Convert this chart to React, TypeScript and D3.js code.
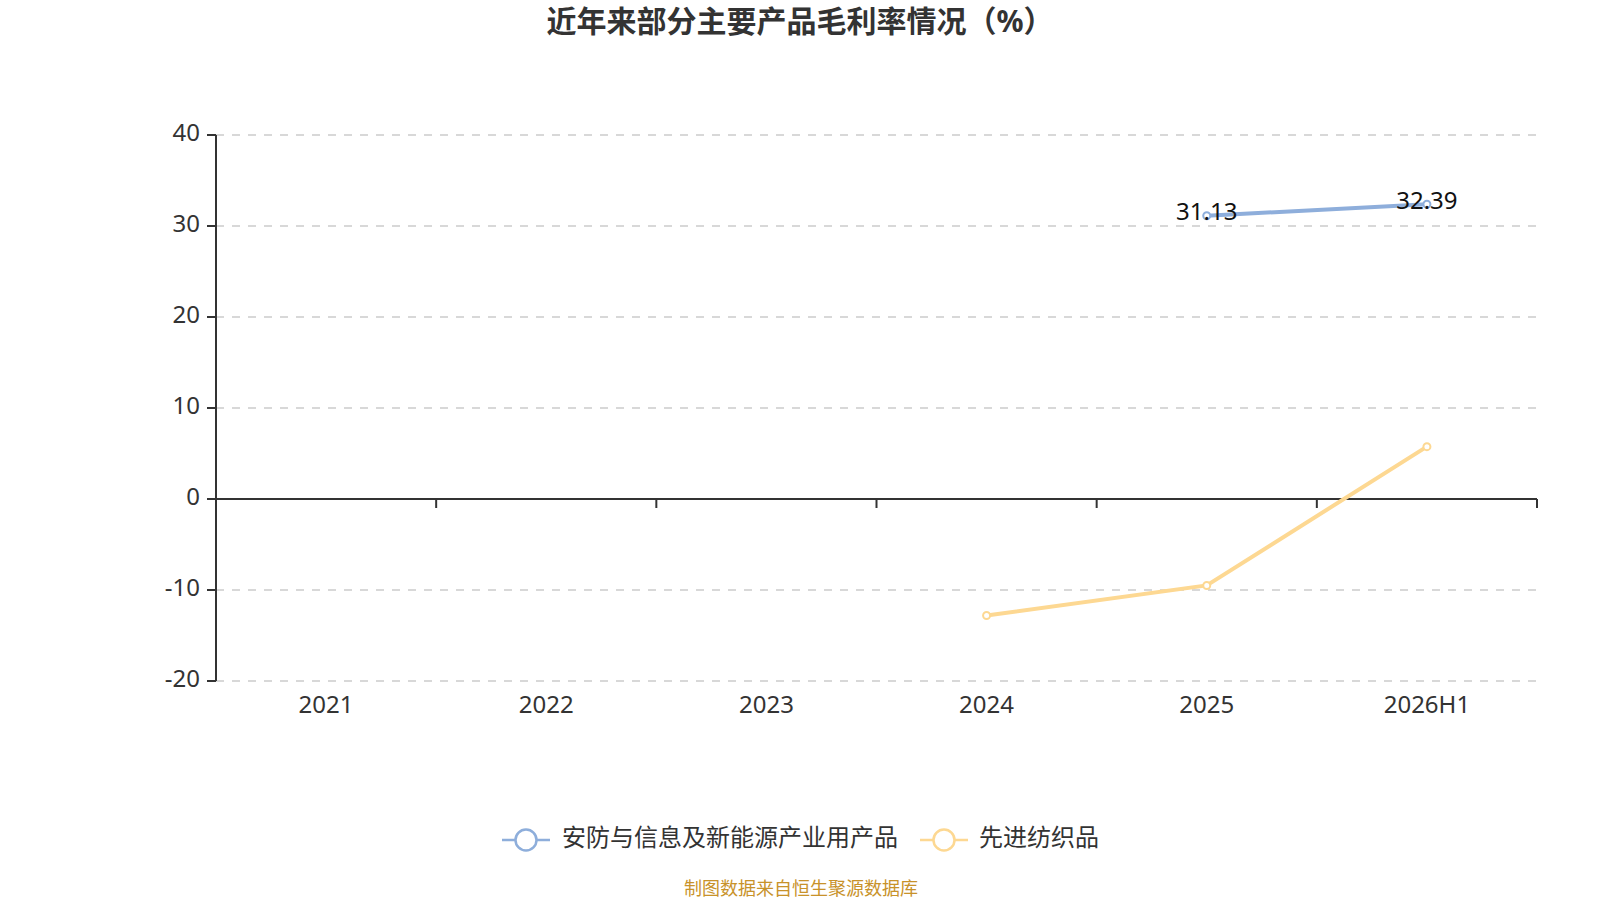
import * as d3 from "d3";

const categories = ["2021", "2022", "2023", "2024", "2025", "2026H1"];
const seriesNames = ["安防与信息及新能源产业用产品", "先进纺织品"];
const securityValues: (number | null)[] = [null, null, null, null, 31.13, 32.39];
const textileValues: (number | null)[] = [null, null, null, -12.8, -9.5, 5.75];
const yTicks = [-20, -10, 0, 10, 20, 30, 40];

const colors = ["#8eaedb", "#fdd892"];
const FONT = "'Noto Sans', 'Noto Sans CJK SC', sans-serif";

const WIDTH = 1600;
const HEIGHT = 900;
const LEFT = 216;
const RIGHT = 1537;
const TOP = 135;
const BOTTOM = 681;

export default function App() {
	const x = d3.scaleBand<string>().domain(categories).range([LEFT, RIGHT]);
	const y = d3.scaleLinear().domain([-20, 40]).range([BOTTOM, TOP]);

	const line = d3
		.line<[string, number | null]>()
		.defined((d) => d[1] !== null)
		.x((d) => (x(d[0]) ?? 0) + x.bandwidth() / 2)
		.y((d) => y(d[1] as number));

	const series = [securityValues, textileValues];
	const showLabels = [true, false];

	return (
		<svg width={WIDTH} height={HEIGHT} style={{ position: "absolute", left: 0, top: 0 }} fontFamily={FONT}>
			<rect width={WIDTH} height={HEIGHT} fill="#fff" />
			<text x={800} y={24} textAnchor="middle" dominantBaseline="middle" fontSize={30} fontWeight="bold" fill="#333">
				近年来部分主要产品毛利率情况（%）
			</text>

			{/* grid lines */}
			{yTicks
				.filter((t) => t !== 0)
				.map((t) => (
					<line key={t} x1={LEFT} x2={RIGHT} y1={y(t)} y2={y(t)} stroke="#ccc" strokeDasharray="8,8" strokeWidth={1.5} />
				))}

			{/* y axis */}
			<line x1={LEFT} x2={LEFT} y1={TOP} y2={BOTTOM} stroke="#333" strokeWidth={2} />
			{yTicks.map((t) => (
				<g key={t}>
					<line x1={LEFT - 9} x2={LEFT} y1={y(t)} y2={y(t)} stroke="#333" strokeWidth={2} />
					<text x={LEFT - 16} y={y(t)} textAnchor="end" dominantBaseline="middle" fontSize={24} fill="#333">
						{t}
					</text>
				</g>
			))}

			{/* x axis at zero */}
			<line x1={LEFT} x2={RIGHT} y1={y(0)} y2={y(0)} stroke="#333" strokeWidth={2} />
			{categories.map((c, i) => {
				const xr = (x(c) ?? 0) + x.bandwidth();
				return (
					<g key={c}>
						<line x1={xr} x2={xr} y1={y(0)} y2={y(0) + 9} stroke="#333" strokeWidth={2} />
						<text
							x={(x(c) ?? 0) + x.bandwidth() / 2}
							y={BOTTOM + 26}
							textAnchor="middle"
							dominantBaseline="middle"
							fontSize={24}
							fill="#333"
						>
							{categories[i]}
						</text>
					</g>
				);
			})}

			{/* series */}
			{series.map((vals, si) => {
				const pts = categories.map((c, i) => [c, vals[i]] as [string, number | null]);
				return (
					<g key={si}>
						<path d={line(pts) ?? ""} fill="none" stroke={colors[si]} strokeWidth={4} />
						{pts
							.filter((p) => p[1] !== null)
							.map((p) => (
								<circle
									key={p[0]}
									cx={(x(p[0]) ?? 0) + x.bandwidth() / 2}
									cy={y(p[1] as number)}
									r={3.5}
									fill="#fff"
									stroke={colors[si]}
									strokeWidth={2}
								/>
							))}
						{showLabels[si] &&
							pts
								.filter((p) => p[1] !== null)
								.map((p) => (
									<text
										key={"l" + p[0]}
										x={(x(p[0]) ?? 0) + x.bandwidth() / 2}
										y={y(p[1] as number) - 2}
										textAnchor="middle"
										dominantBaseline="middle"
										fontSize={24}
										fill="#111"
									>
										{(p[1] as number).toFixed(2)}
									</text>
								))}
					</g>
				);
			})}

			{/* legend */}
			{[
				{ x0: 502, tx: 562 },
				{ x0: 920, tx: 979 },
			].map((l, i) => (
				<g key={i}>
					<line x1={l.x0} x2={l.x0 + 48} y1={840} y2={840} stroke={colors[i]} strokeWidth={2.5} />
					<circle cx={l.x0 + 24} cy={840} r={10.5} fill="#fff" stroke={colors[i]} strokeWidth={2.5} />
					<text x={l.tx} y={840} dominantBaseline="middle" fontSize={24} fill="#333">
						{seriesNames[i]}
					</text>
				</g>
			))}

			<text x={801} y={890} textAnchor="middle" dominantBaseline="middle" fontSize={18} fill="#c8922a">
				制图数据来自恒生聚源数据库
			</text>
		</svg>
	);
}
